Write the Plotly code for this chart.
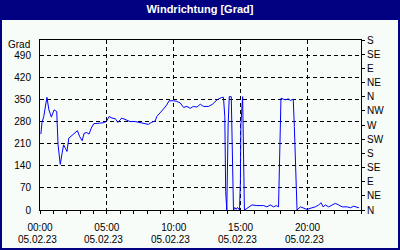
import plotly.graph_objects as go

# ---- data ----
times = ["00:04","00:09","00:17","00:22","00:31","00:40","00:51","01:03","01:15","01:21",
         "01:25","01:31","01:39","01:46","01:54","02:01","02:09","02:21","02:36","02:48",
         "02:58","03:09","03:18","03:30","03:40","03:50","04:01","04:13","04:28","04:43",
         "04:58","05:10","05:23","05:38","05:49","06:07","06:29","06:44","07:07","07:29",
         "07:52","08:06","08:22","08:37","08:44","08:59","09:14","09:29","09:39","09:59",
         "10:14","10:29","10:44","10:59","11:14","11:28","11:44","11:59","12:13","12:36",
         "12:54","13:14","13:33","13:43","13:49","13:53","13:58","14:04","14:09","14:18",
         "14:21","14:24","14:28","14:34","14:40","14:46","14:55","14:59","15:01","15:09",
         "15:13","15:17","15:28","15:51","16:13","16:43","16:58","17:13","17:28","17:40",
         "17:50","17:53","17:58","18:01","18:20","18:34","18:43","18:56","19:01","19:08",
         "19:13","19:28","19:43","19:58","20:20","20:35","20:50","21:01","21:10","21:20",
         "21:35","21:50","22:05","22:20","22:35","22:58","23:12","23:27","23:42","23:51"]
direction = [241,279,297,323,358,318,295,318,313,207,
             170,145,180,207,196,186,228,236,246,252,
             233,220,244,246,241,260,274,274,276,277,
             281,297,292,290,278,292,286,281,281,278,
             276,272,279,283,297,308,321,334,347,347,
             345,340,326,329,323,329,327,336,329,329,
             336,350,357,358,297,58,0,270,360,360,
             270,90,0,8,2,8,0,90,270,360,
             90,0,5,16,14,14,10,16,10,14,
             10,90,270,355,350,353,348,352,265,58,
             0,10,5,2,7,10,16,23,10,16,
             10,16,21,16,10,10,7,12,10,7]
date = "2023-02-05"
left_ticks = [0, 70, 140, 210, 280, 350, 420, 490]
left_labels = ["0", "70", "140", "210", "280", "350", "420", "490"]
right_ticks = [0, 45, 90, 135, 180, 225, 270, 315, 360, 405, 450, 495, 540]
right_labels = ["N", "NE", "E", "SE", "S", "SW", "W", "NW", "N", "NE", "E", "SE", "S"]
x_tick_hours = ["00:00", "05:00", "10:00", "15:00", "20:00"]
x_tick_date = "05.02.23"
title = "Windrichtung [Grad]"
unit = "Grad"

x = [f"{date} {t}" for t in times]
tick_x = [f"{date} {h}" for h in x_tick_hours]

FONT = "Liberation Sans, Arial, sans-serif"
W, H = 400, 250
L, R, T, B = 40, 39, 40, 40
pw, ph = W - L - R, H - T - B

fig = go.Figure()
fig.add_trace(go.Scatter(x=x, y=direction, mode="lines",
                         line=dict(color="#0000FF", width=1), showlegend=False,
                         hoverinfo="skip"))
# invisible trace for right axis
fig.add_trace(go.Scatter(x=[x[0]], y=[0], yaxis="y2", mode="markers",
                         marker=dict(opacity=0), showlegend=False, hoverinfo="skip"))

annotations = [dict(text=unit, xref="paper", yref="y", x=-8 / pw, y=525,
                    xanchor="right", yanchor="middle", showarrow=False,
                    font=dict(family=FONT, size=10, color="black"))]
for tx in tick_x:
    annotations.append(dict(text=x_tick_date, xref="x", yref="paper", x=tx,
                            y=-(239 - (H - B)) / ph, xanchor="center", yanchor="middle",
                            xshift=-3, showarrow=False,
                            font=dict(family=FONT, size=10, color="black")))

fig.update_layout(
    width=W, height=H,
    margin=dict(l=L, r=R, t=T, b=B, pad=0),
    paper_bgcolor="#000080",
    plot_bgcolor="rgba(0,0,0,0)",
    font=dict(family=FONT, size=10, color="black"),
    title=dict(text=f"<b>{title}</b>", x=0.5, xanchor="center",
               y=1 - 9.5 / H, yanchor="middle", yref="container",
               font=dict(family=FONT, size=11, color="white")),
    xaxis=dict(
        type="date",
        range=[f"{date} 00:00", "2023-02-06 00:00"],
        tickvals=tick_x,
        ticktext=x_tick_hours,
        ticks="outside", ticklen=3, tickcolor="black", tickwidth=1,
        minor=dict(dtick=3600000, ticks="outside", ticklen=3, tickcolor="black",
                   showgrid=False),
        showgrid=True, gridcolor="black", griddash="4px,3px", gridwidth=1,
        showline=True, linecolor="black", linewidth=1, mirror=True,
        zeroline=False, fixedrange=True, ticklabelstandoff=5,
        tickfont=dict(family=FONT, size=10, color="black"),
    ),
    yaxis=dict(
        range=[0, 540],
        tickvals=left_ticks, ticktext=left_labels,
        ticks="", showgrid=True, gridcolor="black", griddash="4px,3px", gridwidth=1,
        showline=True, linecolor="black", linewidth=1,
        zeroline=False, fixedrange=True, ticklabelstandoff=6,
        tickfont=dict(family=FONT, size=10, color="black"),
    ),
    yaxis2=dict(
        range=[0, 540], overlaying="y", side="right",
        tickvals=right_ticks, ticktext=right_labels,
        ticks="outside", ticklen=3, tickcolor="black",
        showgrid=False, showline=True, linecolor="black", linewidth=1,
        zeroline=False, fixedrange=True,
        tickfont=dict(family=FONT, size=10, color="black"),
    ),
    shapes=[dict(type="rect", xref="paper", yref="paper", layer="below",
                 x0=(2 - L) / pw, x1=(398 - L) / pw,
                 y0=-(248 - (H - B)) / ph, y1=(T - 20) / ph + 1,
                 fillcolor="#F8FCF8", line=dict(width=0))],
    annotations=annotations,
)

fig.write_html("out.html")
